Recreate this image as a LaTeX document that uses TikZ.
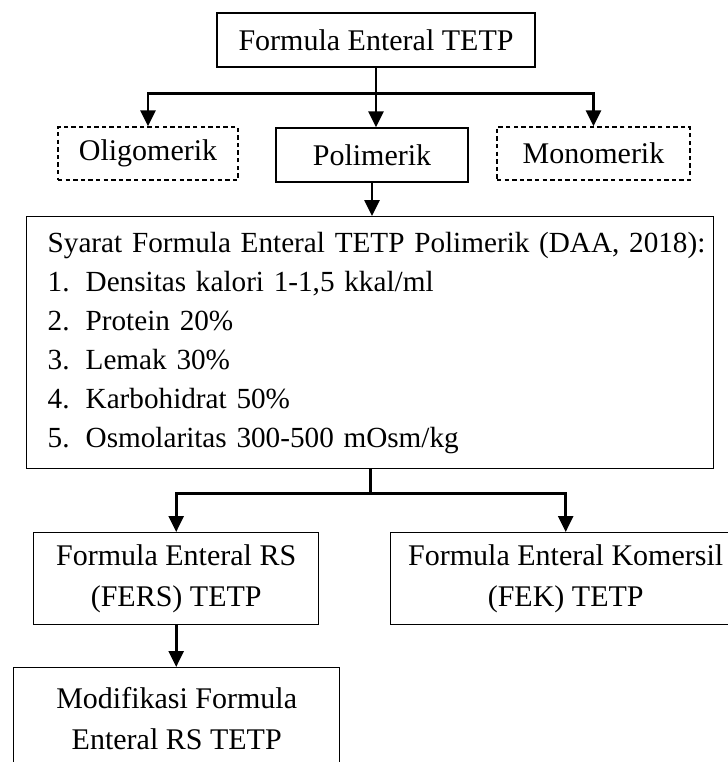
\documentclass[tikz,border=0pt]{standalone}
\usepackage{fontspec}
\setmainfont{Liberation Serif}
\usetikzlibrary{positioning,arrows.meta}
\tikzset{
    box/.style={
        rectangle,
        draw=black,
        line width=0.7pt,
        align=center,
        inner xsep=0pt,
        inner ysep=3pt,
        font=\fontsize{15}{20.5}\selectfont
    },
    dashbox/.style={
        box,
        dash pattern=on 2.2pt off 1.6pt
    },
    listbox/.style={
        box,
        align=left,
        text width=343.5pt,
        minimum height=126pt,
        font=\fontsize{14.6}{19.5}\selectfont
    },
    arrow/.style={
        -{Triangle[width=7.5pt,length=8pt]},
        line width=1.3pt
    }
}
\newcommand{\lead}{\hspace*{10.5pt}}
\newcommand{\itm}[2]{\lead\mbox{\makebox[19pt][l]{#1}#2}}

\begin{document}
\begin{tikzpicture}[x=0.5pt,y=-0.5pt]
    \useasboundingbox (0,0) rectangle (728,762);
    \clip (0,0) rectangle (728,762);
    \node (top) [box, minimum width=159pt, minimum height=27pt] at (376,40) {Formula Enteral TETP};
    \node (poli) [box, minimum width=96pt, minimum height=27pt] at (372,155) {Polimerik};
    \node (oligo) [dashbox, minimum width=90pt, minimum height=26.5pt] at (148,153.5) {Oligomerik};
    \node (mono) [dashbox, minimum width=96.5pt, minimum height=26.5pt] at (593.5,153.5) {Monomerik};
    \node (syarat) [listbox, anchor=north west] at (26,216) {\lead\mbox{Syarat Formula Enteral TETP Polimerik (DAA, 2018):}\\
        \itm{1.}{Densitas kalori 1-1,5 kkal/ml}\\
        \itm{2.}{Protein 20\%}\\
        \itm{3.}{Lemak 30\%}\\
        \itm{4.}{Karbohidrat 50\%}\\
        \itm{5.}{Osmolaritas 300-500 mOsm/kg}};
    \node (fers) [box, minimum width=142.5pt, minimum height=46pt, anchor=north west] at (33,532) {Formula Enteral RS\\(FERS) TETP};
    \node (fek) [box, minimum width=175pt, minimum height=46pt, anchor=north west] at (390,532) {Formula Enteral Komersil\\(FEK) TETP};
    \node (modif) [box, minimum width=163pt, inner ysep=10pt, text depth=40pt, anchor=north west] at (13,667) {Modifikasi Formula\\Enteral RS TETP};
    % connectors
    \draw [arrow] (top.south) -- ++(0,26) -| (oligo.north);
    \draw [arrow] (top.south) -- ++(0,26) -| (mono.north);
    \draw [arrow] (top.south) -- (top.south |- poli.north);
    \draw [arrow] (poli.south) -- (poli.south |- syarat.north);
    \draw [arrow] (syarat.south) -- ++(0,24) -| (fers.north);
    \draw [arrow] (syarat.south) -- ++(0,24) -| (fek.north);
    \draw [arrow] (fers.south) -- (fers.south |- modif.north);
\end{tikzpicture}
\end{document}
